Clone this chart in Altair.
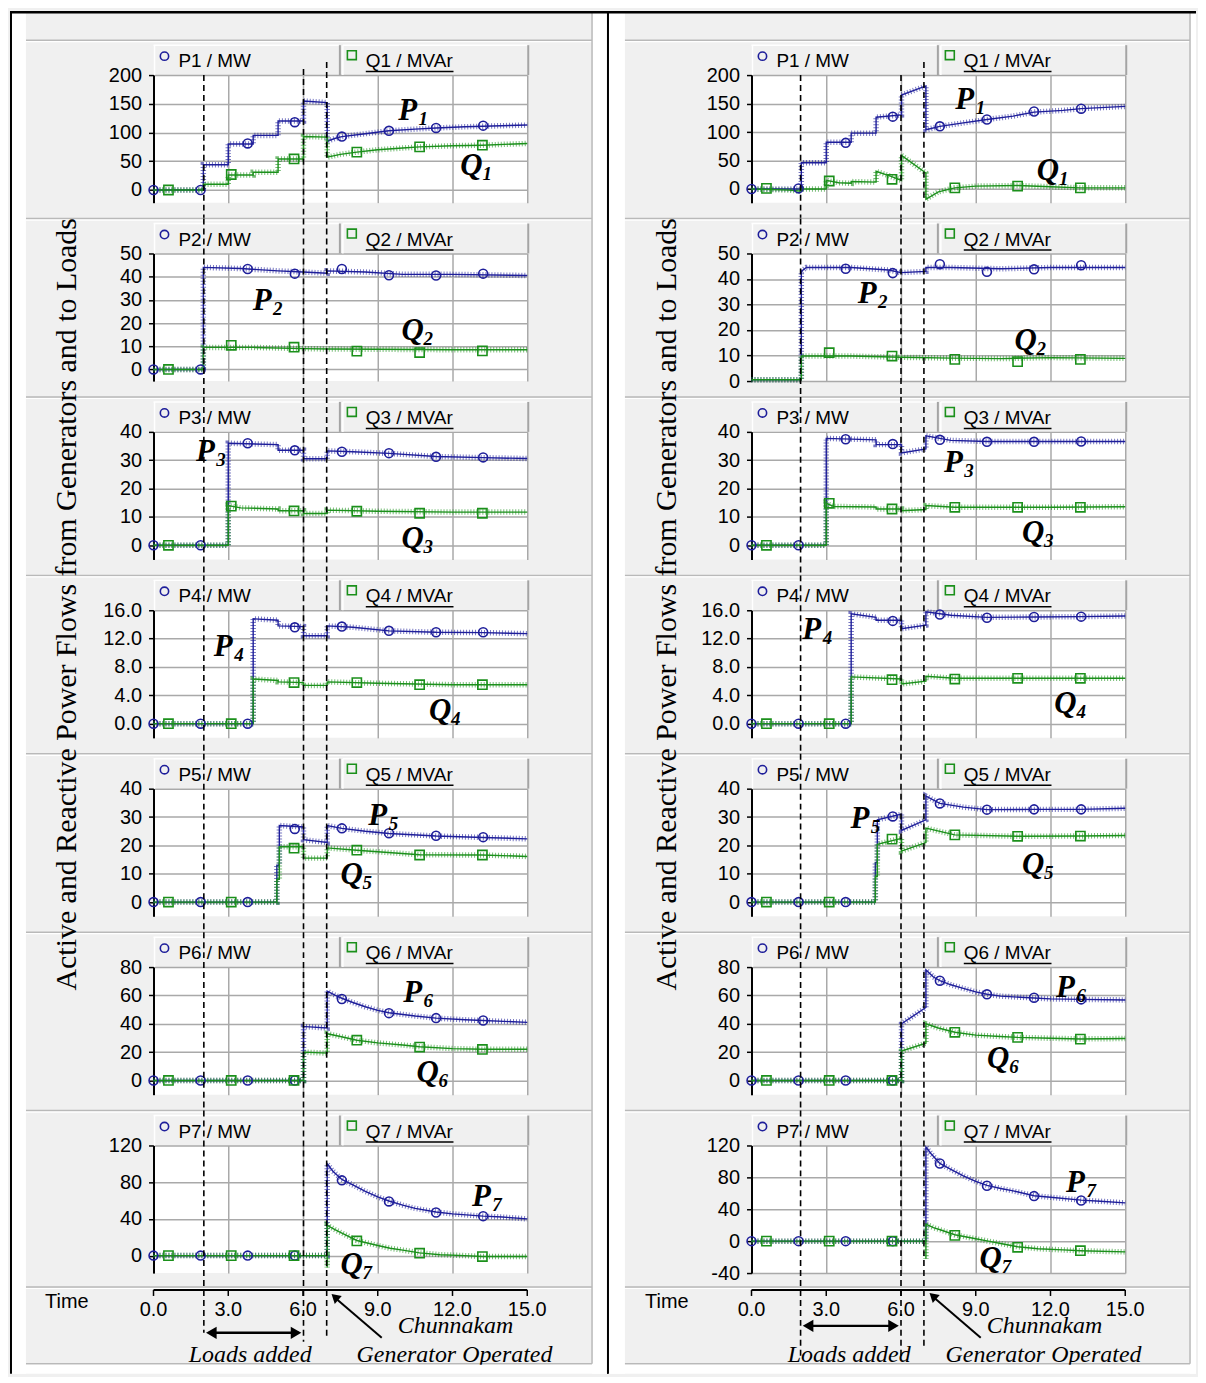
import altair as alt
import pandas as pd

# ---------------- data ----------------
T_CIRC = [0, 1.89, 3.78, 5.67, 7.56, 9.45, 11.34, 13.23]
T_SQ = [0.6, 3.12, 5.64, 8.16, 10.68, 13.2]
TIME_TICKS = [0, 3, 6, 9, 12, 15]

# left column
L1_P_T = [0, 2.0, 2.0, 3.0, 3.0, 4.0, 4.0, 5.0, 5.0, 6.02, 6.02, 6.97, 6.97, 7.3, 7.56, 8.5, 9.45, 10.5, 11.34, 12.5, 13.23, 15.0]
L1_P_V = [0, 0, 44, 44, 80, 80, 95, 95, 120, 120, 155, 152, 85, 90, 93, 98, 103, 106, 108, 110, 111, 113]
L1_Q_T = [0, 2.0, 2.0, 3.0, 3.0, 4.0, 4.0, 5.0, 5.0, 6.02, 6.02, 6.97, 6.97, 7.5, 8.16, 9.0, 10.0, 10.68, 12.0, 13.2, 15.0]
L1_Q_V = [0, 0, 10, 10, 26, 26, 31, 31, 54, 54, 93, 92, 57, 62, 66, 70, 73, 75, 77, 78, 81]
L1_P_MK = [0, 0, 81, 118, 93, 103, 108, 112]
L1_Q_MK = [0, 27, 54, 66, 75, 78]

L2_P_T = [0, 2.0, 2.0, 3.5, 5.0, 6.0, 6.97, 6.97, 8.5, 10.0, 12.0, 15.0]
L2_P_V = [0, 0, 44, 43.5, 42.5, 42, 41.5, 42.5, 42, 41, 41, 40.5]
L2_Q_T = [0, 2.0, 2.0, 4.0, 6.0, 7.0, 9.0, 12.0, 15.0]
L2_Q_V = [0, 0, 9.5, 9.5, 9, 8.8, 8.7, 8.5, 8.5]
L2_P_MK = [0, 0, 43.3, 41.3, 43.3, 40.6, 40.5, 41.3]
L2_Q_MK = [0, 10.4, 9.6, 7.9, 7.3, 8]

L3_P_T = [0, 3.0, 3.0, 5.0, 5.0, 6.02, 6.02, 6.97, 6.97, 8.0, 9.45, 11.34, 13.23, 15.0]
L3_P_V = [0, 0, 36, 35.5, 33.5, 33.5, 30.5, 30.5, 33.3, 33, 32.4, 31.3, 30.9, 30.6]
L3_Q_T = [0, 3.0, 3.0, 3.5, 5.0, 5.0, 6.02, 6.02, 6.97, 6.97, 9.0, 12.0, 15.0]
L3_Q_V = [0, 0, 14, 13.2, 12.8, 12.2, 12.2, 11.2, 11.2, 12.4, 12, 11.7, 11.7]
L3_P_MK = [0, 0, 36, 33.5, 33, 32.5, 31.2, 31]
L3_Q_MK = [0, 13.8, 12.1, 12, 11.3, 11.3]

L4_P_T = [0, 4.0, 4.0, 5.0, 5.0, 6.02, 6.02, 6.97, 6.97, 8.0, 9.45, 11.34, 13.23, 15.0]
L4_P_V = [0, 0, 14.8, 14.6, 13.8, 13.7, 12.4, 12.4, 13.8, 13.6, 13.1, 12.9, 12.85, 12.7]
L4_Q_T = [0, 4.0, 4.0, 5.0, 5.0, 6.02, 6.02, 6.97, 6.97, 9.0, 12.0, 15.0]
L4_Q_V = [0, 0, 6.3, 6.1, 5.9, 5.8, 5.4, 5.4, 5.9, 5.7, 5.5, 5.5]
L4_P_MK = [0, 0, 0, 13.6, 13.7, 13.1, 12.9, 12.9]
L4_Q_MK = [0, 0, 5.8, 5.8, 5.5, 5.5]

L5_P_T = [0, 4.95, 4.95, 5.05, 5.05, 6.02, 6.02, 6.97, 6.97, 7.56, 8.5, 9.45, 11.34, 13.23, 15.0]
L5_P_V = [0, 0, 13, 13, 27, 26.5, 22, 21, 27, 26, 25, 24.2, 23.3, 22.8, 22.3]
L5_Q_T = [0, 4.95, 4.95, 5.05, 5.05, 6.02, 6.02, 6.97, 6.97, 8.16, 10.68, 13.2, 15.0]
L5_Q_V = [0, 0, 8, 8, 19.5, 19.5, 15.5, 15.5, 19.1, 18.3, 16.7, 16.6, 16.1]
L5_P_MK = [0, 0, 0, 25.8, 26, 24.3, 23.4, 22.9]
L5_Q_MK = [0, 0, 19, 18.3, 16.6, 16.6]

L6_P_T = [0, 6.02, 6.02, 6.1, 6.97, 6.97, 7.3, 7.56, 8.0, 8.5, 9.0, 9.45, 10.5, 11.34, 12.5, 13.23, 15.0]
L6_P_V = [0, 0, 38, 38, 37, 63, 60, 58, 55, 52, 49.5, 47.8, 45.5, 44, 42.8, 42.3, 41]
L6_Q_T = [0, 6.02, 6.02, 6.97, 6.97, 7.5, 8.16, 9.0, 10.0, 10.68, 12.0, 13.2, 15.0]
L6_Q_V = [0, 0, 20, 19.3, 33, 31, 28.4, 26.5, 25, 23.8, 22.5, 22, 22]
L6_P_MK = [0, 0, 0, 0, 57.5, 47.5, 44, 42.3]
L6_Q_MK = [0, 0, 0, 28.4, 23.6, 21.9]

L7_P_T = [0, 6.97, 6.97, 7.2, 7.56, 8.0, 8.5, 9.0, 9.45, 10.0, 10.5, 11.34, 12.0, 13.23, 14.0, 15.0]
L7_P_V = [0, 0, 100, 92, 83, 77, 70, 64, 59.5, 55, 51.5, 47.5, 45.5, 43, 42, 40]
L7_Q_T = [0, 6.97, 6.97, 6.97, 7.3, 7.6, 8.16, 9.0, 9.5, 10.0, 10.68, 11.5, 12.5, 13.2, 15.0]
L7_Q_V = [0, 0, -13, 33, 28, 24, 16.5, 11, 8, 6, 3, 1, 0, -1, -1]
L7_P_MK = [0, 0, 0, 0, 82, 59, 47, 43]
L7_Q_MK = [0, 0, 0, 16, 2.6, -1]

# right column
R1_P_T = [0, 2.0, 2.0, 3.0, 3.0, 4.0, 4.0, 5.0, 5.0, 6.02, 6.02, 7.0, 7.0, 7.56, 8.5, 9.45, 10.5, 11.34, 12.5, 13.23, 15.0]
R1_P_V = [0, 0, 46, 46, 82, 82, 98, 98, 126, 130, 165, 181, 104, 110, 116, 122, 128, 135, 138, 141, 145]
R1_Q_T = [0, 1.5, 2.0, 2.0, 3.0, 3.0, 3.5, 4.0, 4.0, 5.0, 5.0, 5.6, 6.02, 6.02, 7.0, 7.0, 7.5, 8.16, 9.0, 10.68, 12.0, 13.2, 15.0]
R1_Q_V = [0, -2, -4, 0, 0, 15, 11, 10, 13, 12, 31, 22, 15, 59, 28, -18, -5, 2, 5, 6, 4, 2, 2]
R1_P_MK = [0, 1, 81, 127, 110, 122, 136, 141]
R1_Q_MK = [1, 14, 17, 2, 5, 2]

R2_P_T = [0, 2.0, 2.0, 2.2, 4.0, 5.5, 6.0, 7.0, 7.0, 8.0, 10.0, 12.0, 15.0]
R2_P_V = [0.5, 0.5, 43, 44.5, 44.5, 43.5, 42.5, 43, 44.5, 44.5, 44, 44.5, 44.5]
R2_Q_T = [0, 2.0, 2.0, 4.0, 6.0, 8.0, 10.0, 12.0, 15.0]
R2_Q_V = [0.5, 0.5, 9.8, 9.8, 9.3, 9, 8.8, 9.2, 8.9]
R2_P_MK = [None, None, 44, 42.3, 45.8, 42.8, 43.8, 45.4]
R2_Q_MK = [None, 11.1, 9.8, 8.5, 7.6, 8.5]

R3_P_T = [0, 3.0, 3.0, 5.0, 5.0, 6.02, 6.02, 7.0, 7.0, 8.0, 9.45, 11.34, 13.23, 15.0]
R3_P_V = [0, 0, 37.7, 37.2, 35.5, 35.5, 32.6, 34, 38.6, 37, 36.6, 36.6, 36.6, 36.6]
R3_Q_T = [0, 3.0, 3.0, 3.3, 5.0, 5.0, 6.02, 6.02, 7.0, 7.0, 8.16, 12.0, 15.0]
R3_Q_V = [0, 0, 14.8, 13.7, 13.5, 12.8, 12.8, 12.2, 12.6, 14, 13.4, 13.4, 13.6]
R3_P_MK = [0, 0, 37.4, 35.7, 37.2, 36.5, 36.5, 36.6]
R3_Q_MK = [0, 14.8, 12.8, 13.4, 13.4, 13.4]

R4_P_T = [0, 4.0, 4.0, 5.0, 5.0, 6.02, 6.02, 7.0, 7.0, 8.0, 9.45, 11.34, 13.23, 15.0]
R4_P_V = [0, 0, 15.5, 15.0, 14.6, 14.6, 13.4, 13.9, 15.8, 15.3, 15.0, 15.05, 15.1, 15.2]
R4_Q_T = [0, 4.0, 4.0, 6.02, 6.02, 7.0, 7.0, 8.16, 12.0, 15.0]
R4_Q_V = [0, 0, 6.6, 6.3, 5.6, 6.0, 6.7, 6.4, 6.4, 6.4]
R4_P_MK = [0, 0, 0, 14.5, 15.4, 14.95, 15.05, 15.1]
R4_Q_MK = [0, 0, 6.2, 6.3, 6.4, 6.4]

R5_P_T = [0, 4.97, 4.97, 5.05, 5.05, 6.02, 6.02, 7.0, 7.0, 7.56, 8.5, 9.45, 11.34, 13.23, 15.0]
R5_P_V = [0, 0, 14, 14, 29, 31, 25.3, 29, 37.4, 34.8, 33.5, 32.6, 32.7, 32.7, 33.1]
R5_Q_T = [0, 4.97, 4.97, 5.05, 5.05, 6.02, 6.02, 7.0, 7.0, 8.16, 10.68, 13.2, 15.0]
R5_Q_V = [0, 0, 9, 9, 20.4, 22.5, 18, 21, 26.1, 23.7, 23.2, 23.3, 23.5]
R5_P_MK = [0, 0, 0, 30.2, 34.8, 32.6, 32.7, 32.7]
R5_Q_MK = [0, 0, 22.2, 23.7, 23.2, 23.3]

R6_P_T = [0, 6.02, 6.02, 7.0, 7.0, 7.3, 7.56, 8.0, 8.5, 9.0, 9.45, 10.0, 11.34, 12.0, 13.23, 15.0]
R6_P_V = [0, 0, 40, 51.5, 78, 73, 70.5, 67.5, 65, 62.5, 60.8, 59.5, 58.2, 57.6, 57.2, 56.8]
R6_Q_T = [0, 6.02, 6.02, 7.0, 7.0, 7.5, 8.16, 9.0, 10.0, 10.68, 12.0, 13.2, 15.0]
R6_Q_V = [0, 0, 20.8, 26.3, 40, 37, 34, 32, 31, 30.4, 29.8, 29.3, 29.6]
R6_P_MK = [0, 0, 0, 0, 70.4, 60.8, 58.4, 57.2]
R6_Q_MK = [0, 0, 0, 34, 30.4, 29.2]

R7_P_T = [0, 7.0, 7.0, 7.2, 7.56, 8.0, 8.5, 9.0, 9.45, 10.0, 10.5, 11.34, 12.0, 13.23, 14.0, 15.0]
R7_P_V = [0, 0, 118, 110, 97.5, 90, 82, 75, 70, 66, 63, 57, 55, 51.5, 50, 48]
R7_Q_T = [0, 7.0, 7.0, 7.0, 7.3, 7.6, 8.16, 9.0, 9.5, 10.0, 10.68, 11.5, 12.5, 13.2, 15.0]
R7_Q_V = [0, 0, -22, 21.5, 17, 14, 8, 3, 0, -3, -7, -9.5, -11, -12, -13.5]
R7_P_MK = [0, 0, 0, 0, 97.4, 69.5, 56.5, 51]
R7_Q_MK = [0, 0, 0, 7.3, -7.7, -12]

# event lines (time) per column
VL_LEFT = [2.02, 6.02, 6.95]
VL_RIGHT = [1.97, 6.0, 6.92]

# ---------------- styling / layout ----------------
W, H = 375, 128
PITCH = 179
GAP = PITCH - H
SEP = -35
BG = "#f0f0f0"
GRID = "#a9a9a9"
SEPCOL = "#b9b9b9"
PCOL = "#1e1e9a"
QCOL = "#1b901b"
SANS = "Liberation Sans"
SERIF = "Liberation Serif"

AX = dict(
    L=[
        ([-22, 200], [0, 50, 100, 150, 200], None, (10.2, 137), (12.76, 41)),
        ([-5, 50], [0, 10, 20, 30, 40, 50], None, (4.36, 29.5), (10.4, 16.5)),
        ([-5, 40], [0, 10, 20, 30, 40], None, (2.08, 33), (10.4, 2.1)),
        ([-2, 16], [0, 4, 8, 12, 16], ".1f", (2.8, 10.8), (11.5, 1.8)),
        ([-5, 40], [0, 10, 20, 30, 40], None, (9.0, 30.4), (7.95, 9.6)),
        ([-10, 80], [0, 20, 40, 60, 80], None, (10.4, 62), (11.0, 5)),
        ([-19, 120], [0, 40, 80, 120], None, (13.16, 64), (7.95, -10)),
    ],
    R=[
        ([-24, 200], [0, 50, 100, 150, 200], None, (8.56, 156), (11.9, 31)),
        ([0, 50], [0, 10, 20, 30, 40, 50], None, (4.64, 34), (11.0, 15.7)),
        ([-5, 40], [0, 10, 20, 30, 40], None, (8.1, 29), (11.3, 4.2)),
        ([-2, 16], [0, 4, 8, 12, 16], ".1f", (2.42, 13.2), (12.6, 2.8)),
        ([-5, 40], [0, 10, 20, 30, 40], None, (4.35, 29.3), (11.3, 13.2)),
        ([-10, 80], [0, 20, 40, 60, 80], None, (12.6, 65.5), (9.9, 15)),
        ([-40, 120], [-40, 0, 40, 80, 120], None, (13.0, 73), (9.6, -23)),
    ],
)

SERIES = dict(
    L=[
        (L1_P_T, L1_P_V, L1_Q_T, L1_Q_V, L1_P_MK, L1_Q_MK),
        (L2_P_T, L2_P_V, L2_Q_T, L2_Q_V, L2_P_MK, L2_Q_MK),
        (L3_P_T, L3_P_V, L3_Q_T, L3_Q_V, L3_P_MK, L3_Q_MK),
        (L4_P_T, L4_P_V, L4_Q_T, L4_Q_V, L4_P_MK, L4_Q_MK),
        (L5_P_T, L5_P_V, L5_Q_T, L5_Q_V, L5_P_MK, L5_Q_MK),
        (L6_P_T, L6_P_V, L6_Q_T, L6_Q_V, L6_P_MK, L6_Q_MK),
        (L7_P_T, L7_P_V, L7_Q_T, L7_Q_V, L7_P_MK, L7_Q_MK),
    ],
    R=[
        (R1_P_T, R1_P_V, R1_Q_T, R1_Q_V, R1_P_MK, R1_Q_MK),
        (R2_P_T, R2_P_V, R2_Q_T, R2_Q_V, R2_P_MK, R2_Q_MK),
        (R3_P_T, R3_P_V, R3_Q_T, R3_Q_V, R3_P_MK, R3_Q_MK),
        (R4_P_T, R4_P_V, R4_Q_T, R4_Q_V, R4_P_MK, R4_Q_MK),
        (R5_P_T, R5_P_V, R5_Q_T, R5_Q_V, R5_P_MK, R5_Q_MK),
        (R6_P_T, R6_P_V, R6_Q_T, R6_Q_V, R6_P_MK, R6_Q_MK),
        (R7_P_T, R7_P_V, R7_Q_T, R7_Q_V, R7_P_MK, R7_Q_MK),
    ],
)

# column specific decoration geometry (pixels relative to plot)
COLGEO = dict(
    L=dict(vl=VL_LEFT, top=[0, -6, -13], bot=[188, 197, 191], arrow_y=188,
           loads_t=3.88, chun_t=12.12, gen_t=12.08, tip=(7.08, 147), tail=(9.16, 193),
           title_x=-87, time_x=-87, marg=[(-144, -128), (440, 456)], blk=[-143, 456], right=456),
    R=dict(vl=VL_RIGHT, top=[0, 0, -13], bot=[214, 214, 201], arrow_y=181,
           loads_t=3.92, chun_t=11.76, gen_t=11.72, tip=(7.08, 146), tail=(9.2, 193),
           title_x=-85, time_x=-85, marg=[(-144, -127), (440, 446)], blk=[-144], right=446),
)

ONE = pd.DataFrame({"a": [0]})


def line_df(ts, vs):
    return pd.DataFrame({"t": ts, "v": vs, "i": list(range(len(ts)))})


def mark_df(ts, vs):
    rows = [(t, v) for t, v in zip(ts, vs) if v is not None]
    return pd.DataFrame(rows, columns=["t", "v"])


def vrule(x0, y0, y1, color, w=1.5):
    return alt.Chart(ONE).mark_rule(color=color, strokeWidth=w).encode(
        x=alt.value(x0), y=alt.value(y0), y2=alt.value(y1))


def hrule(x0, x1, y0, color, w=1.5):
    return alt.Chart(ONE).mark_rule(color=color, strokeWidth=w).encode(
        x=alt.value(x0), x2=alt.value(x1), y=alt.value(y0))


def build_panel(side, k):
    n = k + 1
    dom, ticks, fmt, plab, qlab = AX[side][k]
    pt, pv, qt, qv, pm, qm = SERIES[side][k]
    g = COLGEO[side]
    last = k == 6

    xenc = alt.X("t:Q", scale=alt.Scale(domain=[0, 15], nice=False),
                 axis=alt.Axis(values=TIME_TICKS, grid=True, labels=False, ticks=False,
                               domain=False, title=None, gridColor=GRID, gridWidth=1.5))
    axkw = dict(values=ticks, title=None, grid=True,
                gridColor=GRID, gridWidth=1.5, domain=True,
                domainColor="black", domainWidth=2, ticks=True,
                tickColor="black", tickSize=5, tickWidth=1.5,
                labelFont=SANS, labelFontSize=20, labelColor="black",
                labelPadding=7, labelOverlap=False)
    if fmt:
        axkw["format"] = fmt
    else:
        axkw["labelExpr"] = "'' + datum.value"
    yenc = alt.Y("v:Q", scale=alt.Scale(domain=dom, nice=False, zero=False),
                 axis=alt.Axis(**axkw))
    L = []
    # separator above the panel
    L.append(hrule(-128, 440, SEP, SEPCOL, 1.5))
    L.append(hrule(-128, 440, SEP + 1.5, "white", 1.2))
    # header boxes
    L.append(hrule(0, 186, -30, "white", 1.5))
    L.append(hrule(190, 375, -30, "white", 1.5))
    L.append(vrule(1, -30, 0, "white", 1.5))
    L.append(vrule(190, -30, 0, "white", 1.5))
    L.append(vrule(187, -30, 0, "#a4a4a4", 2))
    L.append(vrule(376, -30, 0, "#a4a4a4", 2))
    L.append(alt.Chart(ONE).mark_point(shape="circle", filled=False, size=70, color=PCOL,
                                       strokeWidth=1.6, opacity=1).encode(
        x=alt.value(11), y=alt.value(-19)))
    L.append(alt.Chart(ONE).mark_text(text=f"P{n} / MW", font=SANS, fontSize=19, align="left",
                                      baseline="middle", color="black").encode(
        x=alt.value(25), y=alt.value(-14)))
    L.append(alt.Chart(ONE).mark_point(shape="square", filled=False, size=80, color=QCOL,
                                       strokeWidth=1.6, opacity=1).encode(
        x=alt.value(199), y=alt.value(-20)))
    L.append(alt.Chart(ONE).mark_text(text=f"Q{n} / MVAr", font=SANS, fontSize=19, align="left",
                                      baseline="middle", color="black").encode(
        x=alt.value(213), y=alt.value(-14)))
    L.append(hrule(213, 301, -3.5, "black", 1.5))

    # data lines (hatched ripple band + line)
    for ts, vs, col in ((pt, pv, PCOL), (qt, qv, QCOL)):
        d = line_df(ts, vs)
        L.append(alt.Chart(d).mark_line(color=col, strokeWidth=5.5, strokeDash=[1, 2],
                                        opacity=0.6).encode(x=xenc, y=yenc, order="i:Q"))
        L.append(alt.Chart(d).mark_line(color=col, strokeWidth=1.4).encode(
            x=xenc, y=yenc, order="i:Q"))
    # markers
    L.append(alt.Chart(mark_df(T_CIRC, pm)).mark_point(shape="circle", filled=False, size=80,
                                                       color=PCOL, strokeWidth=1.6, opacity=1).encode(
        x=xenc, y=yenc))
    L.append(alt.Chart(mark_df(T_SQ, qm)).mark_point(shape="square", filled=False, size=85,
                                                     color=QCOL, strokeWidth=1.6, opacity=1).encode(
        x=xenc, y=yenc))
    # P / Q labels
    for (lt, lv), letter in ((plab, "P"), (qlab, "Q")):
        d = pd.DataFrame({"t": [lt], "v": [lv]})
        L.append(alt.Chart(d).mark_text(text=letter, font=SERIF, fontSize=31, fontStyle="italic",
                                        fontWeight="bold", color="black", align="center",
                                        baseline="middle").encode(x=xenc, y=yenc))
        L.append(alt.Chart(d).mark_text(text=str(n), font=SERIF, fontSize=19, fontStyle="italic",
                                        fontWeight="bold", color="black", align="left",
                                        baseline="middle", dx=11, dy=8).encode(x=xenc, y=yenc))
    # dashed event lines
    for j, tv in enumerate(g["vl"]):
        y0 = g["top"][j] if k == 0 else SEP
        y1 = g["bot"][j] if last else PITCH + SEP
        L.append(alt.Chart(pd.DataFrame({"t": [tv]})).mark_rule(
            color="black", strokeWidth=1.6, strokeDash=[6, 4]).encode(
            x=xenc, y=alt.value(y0), y2=alt.value(y1)))

    if last:
        top = -(6 * PITCH) - 64
        # time band separators
        L.append(hrule(-128, 440, H + 14, SEPCOL, 1.5))
        L.append(hrule(-128, 440, H + 15.5, "white", 1.2))
        L.append(hrule(-128, 440, 219, SEPCOL, 1.5))
        # time axis
        L.append(alt.Chart(pd.DataFrame({"t": [0], "t2": [15]})).mark_rule(
            color="black", strokeWidth=2).encode(x=xenc, x2="t2:Q", y=alt.value(H + 17)))
        tk = pd.DataFrame({"t": TIME_TICKS})
        L.append(alt.Chart(tk).mark_rule(color="black", strokeWidth=1.5).encode(
            x=xenc, y=alt.value(H + 17), y2=alt.value(H + 23)))
        L.append(alt.Chart(tk).mark_text(font=SANS, fontSize=20, color="black", baseline="middle",
                                         align="center").encode(
            x=xenc, y=alt.value(H + 37), text=alt.Text("t:Q", format=".1f")))
        L.append(alt.Chart(ONE).mark_text(text="Time", font=SANS, fontSize=20, color="black",
                                          align="center", baseline="middle").encode(
            x=alt.value(g["time_x"]), y=alt.value(157)))
        # loads added double arrow
        ay = g["arrow_y"]
        t0, t1 = g["vl"][0], g["vl"][1]
        L.append(alt.Chart(pd.DataFrame({"t": [t0 + 0.2], "t2": [t1 - 0.2]})).mark_rule(
            color="black", strokeWidth=2.5).encode(x=xenc, x2="t2:Q", y=alt.value(ay)))
        L.append(alt.Chart(pd.DataFrame({"t": [t0 + 0.3]})).mark_point(
            shape="triangle-left", filled=True, size=150, color="black", opacity=1).encode(
            x=xenc, y=alt.value(ay)))
        L.append(alt.Chart(pd.DataFrame({"t": [t1 - 0.3]})).mark_point(
            shape="triangle-right", filled=True, size=150, color="black", opacity=1).encode(
            x=xenc, y=alt.value(ay)))
        # diagonal arrow to the generator line
        (tt, ty), (lt_, ly) = g["tip"], g["tail"]
        L.append(alt.Chart(pd.DataFrame({"t": [lt_], "t2": [tt + 0.17]})).mark_rule(
            color="black", strokeWidth=2).encode(x=xenc, x2="t2:Q", y=alt.value(ly),
                                                  y2=alt.value(ty + 5)))
        L.append(alt.Chart(pd.DataFrame({"t": [tt + 0.2]})).mark_point(
            shape="triangle-up", filled=True, size=110, color="black", opacity=1,
            angle=312).encode(x=xenc, y=alt.value(ty + 5)))
        # annotation texts
        for tv, yv, s in ((g["loads_t"], 210, "Loads added"), (g["chun_t"], 181, "Chunnakam"),
                          (g["gen_t"], 210, "Generator Operated")):
            L.append(alt.Chart(pd.DataFrame({"t": [tv]})).mark_text(
                text=s, font=SERIF, fontSize=24, fontStyle="italic", color="black",
                align="center", baseline="middle").encode(x=xenc, y=alt.value(yv)))
        # y title
        L.append(alt.Chart(ONE).mark_text(
            text="Active and Reactive Power Flows from Generators and to Loads", font=SERIF,
            fontSize=30, color="black", angle=270, align="center", baseline="middle").encode(
            x=alt.value(g["title_x"]), y=alt.value(-543)))
        # white margins and borders
        for a, b in g["marg"]:
            L.append(alt.Chart(ONE).mark_rect(color="white").encode(
                x=alt.value(a), x2=alt.value(b), y=alt.value(top), y2=alt.value(229)))
        L.append(alt.Chart(ONE).mark_rect(color="white").encode(
            x=alt.value(-144), x2=alt.value(g["right"]), y=alt.value(220), y2=alt.value(229)))
        L.append(vrule(440, top, 219, SEPCOL, 1.5))
        for bx in g["blk"]:
            L.append(vrule(bx, top, 229, "black", 2))
        L.append(hrule(-144, g["right"], top + 1, "black", 2.5))

    return alt.layer(*L).properties(width=W, height=H)


panels = []
for k in range(7):
    panels.append(build_panel("L", k))
    panels.append(build_panel("R", k))

chart = alt.concat(*panels, columns=2, spacing={"row": GAP, "column": 225},
                   bounds="flush").properties(padding=0, background=BG).configure_view(
    stroke=None, fill="white")

chart.save("out.html", embed_options={"renderer": "svg", "actions": False})
